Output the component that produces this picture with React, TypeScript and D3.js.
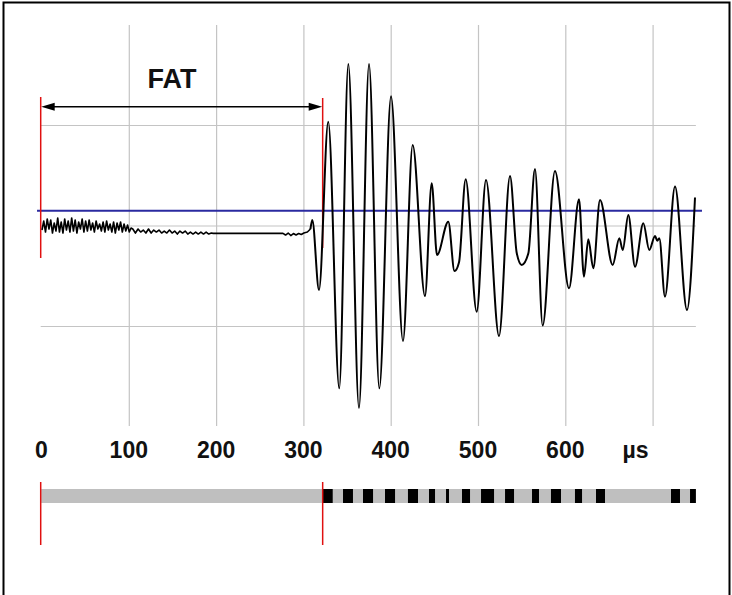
import React from "react";
import * as d3 from "d3";

// ---- data (time in µs, amplitude in grid units) ----
const tickLabels = [0, 100, 200, 300, 400, 500, 600];
const unitLabel = "µs";
const xGrid = [100, 200, 300, 400, 500, 600, 700];
const yGrid = [-1, 0, 1];
const FAT = 321.5;
const baselineLevel = 0.152;

const noiseEarly: [number, number][] = [
  [0, -0.04], [2, 0.05], [4, -0.06], [6, 0.07], [8, -0.03], [10, 0.06], [12, -0.07], [14, 0.03],
  [16, -0.05], [18, 0.08], [20, -0.06], [22, 0.04], [24, -0.07], [26, 0.07], [28, -0.04], [30, 0.05],
  [32, -0.06], [34, 0.08], [36, -0.05], [38, 0.06], [40, -0.07], [42, 0.04], [44, -0.03], [46, 0.07],
  [48, -0.06], [50, 0.05], [52, -0.05], [54, 0.06], [56, -0.04], [58, 0.03], [60, -0.06], [62, 0.05],
  [64, -0.03], [66, 0.02], [68, -0.05], [70, 0.04], [72, -0.06], [74, 0.05], [76, -0.04], [78, 0.02],
  [80, -0.06], [82, 0.04], [84, -0.07], [86, 0.03], [88, -0.04], [90, 0.04], [92, -0.06], [94, 0.02],
  [96, -0.05], [98, 0.01], [100, -0.06], [102, -0.02],
];

const noiseLate: [number, number][] = [
  [104, -0.03], [107, -0.07], [110, -0.03], [113, -0.06], [116, -0.04], [119, -0.07], [122, -0.03],
  [125, -0.07], [128, -0.04], [131, -0.06], [134, -0.04], [137, -0.07], [140, -0.05], [143, -0.07],
  [146, -0.04], [149, -0.07], [152, -0.05], [155, -0.08], [158, -0.05], [161, -0.07], [164, -0.05],
  [167, -0.08], [170, -0.06], [173, -0.08], [176, -0.06], [179, -0.08], [182, -0.06], [185, -0.08],
  [188, -0.06], [191, -0.08], [194, -0.07], [196, -0.073], [276, -0.073], [279, -0.09], [282, -0.07],
  [285, -0.095], [288, -0.075], [291, -0.09], [294, -0.075], [297, -0.085], [300, -0.07], [304, -0.06],
  [307.5, -0.03],
];

const burst: [number, number][] = [
  [309.6, 0.06], [317.3, -0.637], [327.9, 1.038], [340.5, -1.615], [350.9, 1.612], [363.1, -1.81],
  [374.6, 1.612], [386.4, -1.615], [399.8, 1.29], [413.5, -1.144], [424.6, 0.806], [438.7, -0.697],
  [446.4, 0.425], [452.5, -0.289], [465.4, 0.043], [472.5, -0.448], [477.7, -0.36], [485.3, 0.465],
  [497.9, -0.853], [508.6, 0.458], [523.5, -1.095], [536.1, 0.498], [543.8, -0.269], [549.5, -0.388],
  [557.1, -0.272], [564.7, 0.567], [573.5, -0.99], [587.6, 0.547], [603.7, -0.62], [615.1, 0.266],
  [620.8, -0.504], [625.8, -0.132], [631.5, -0.421], [639.2, 0.259], [653.7, -0.388], [661.3, -0.122],
  [665.2, -0.239], [671.6, 0.109], [679.3, -0.405], [688.8, 0.027], [695.6, -0.239], [702.2, -0.1],
  [704.8, -0.146], [707.1, -0.122], [713.6, -0.703], [725.1, 0.393], [738.8, -0.836], [748, 0.284],
];

// black pulse segments on the timeline bar [start, end] in µs
const pulses: [number, number][] = [
  [321.5, 333], [344.8, 356.2], [367.7, 379.2], [392.9, 404.4], [419.2, 430.7], [443.3, 450.2],
  [462.8, 466.2], [481.1, 490.3], [502.9, 517.8], [530.4, 540.7], [561.3, 569.3], [583, 594.5],
  [610.5, 618.6], [634.6, 644.9], [720.5, 730.8], [742.3, 749],
];

export default function App() {
  const W = 732, H = 595;
  const x = d3.scaleLinear().domain([0, 700]).range([42, 653.1]);
  const y = d3.scaleLinear().domain([-1, 1]).range([326.5, 125.5]);

  const noiseLine = d3.line<[number, number]>().x(d => x(d[0])).y(d => y(d[1]));
  const waveLine = d3
    .line<[number, number]>()
    .x(d => x(d[0]))
    .y(d => y(d[1]))
    .curve(d3.curveMonotoneX);

  const noisePath = noiseLine([...noiseEarly, ...noiseLate]) || "";
  const lastNoise = noiseLate[noiseLate.length - 1];
  const wavePath = waveLine([lastNoise, ...burst]) || "";

  const font = "'Liberation Sans', Arial, sans-serif";
  const arrowY = 106.7;
  const x0 = x(0) - 1.3;
  const xF = x(FAT);
  const barTop = 489, barH = 14;

  return (
    <svg
      width={W}
      height={H}
      style={{ position: "absolute", left: 0, top: 0, background: "#fff" }}
    >
      <rect x={0} y={0} width={W} height={H} fill="#fff" />
      {/* frame */}
      <path d={`M3.5,${H + 5} V2.5 H729.5 V${H + 5}`} fill="none" stroke="#000" strokeWidth={2} />

      {/* grid */}
      {xGrid.map(t => (
        <line key={"vx" + t} x1={x(t)} x2={x(t)} y1={25} y2={426} stroke="#c4c4c4" strokeWidth={1.2} />
      ))}
      {yGrid.map(v => (
        <line key={"hy" + v} x1={x(-1.5)} x2={x(749)} y1={y(v)} y2={y(v)} stroke="#c4c4c4" strokeWidth={1.2} />
      ))}

      {/* baseline */}
      <line x1={x(-5.7)} x2={x(756)} y1={y(baselineLevel)} y2={y(baselineLevel)} stroke="#2a2aa0" strokeWidth={2} />

      {/* red markers (top) */}
      <line x1={x0} x2={x0} y1={97} y2={258} stroke="#e01010" strokeWidth={1.5} />
      <line x1={xF} x2={xF} y1={98} y2={248} stroke="#e01010" strokeWidth={1.5} />

      {/* waveform */}
      <path d={noisePath} fill="none" stroke="#000" strokeWidth={1.6} strokeLinejoin="round" />
      <path d={wavePath} fill="none" stroke="#000" strokeWidth={2} strokeLinejoin="round" />

      {/* FAT arrow */}
      <line x1={x0 + 6} x2={xF - 6} y1={arrowY} y2={arrowY} stroke="#000" strokeWidth={1.6} />
      <path d={`M${x0 + 0.5},${arrowY} L${x0 + 14},${arrowY - 4} L${x0 + 14},${arrowY + 4} Z`} fill="#000" />
      <path d={`M${xF - 0.5},${arrowY} L${xF - 14},${arrowY - 4} L${xF - 14},${arrowY + 4} Z`} fill="#000" />
      <text x={172} y={88.3} textAnchor="middle" fontFamily={font} fontWeight="bold" fontSize={27} fill="#111">
        FAT
      </text>

      {/* tick labels */}
      {tickLabels.map(t => (
        <text key={"tl" + t} x={x(t) - 0.5} y={458.3} textAnchor="middle" fontFamily={font} fontWeight="bold" fontSize={23} fill="#111">
          {t}
        </text>
      ))}
      <text x={x(680)} y={458.3} textAnchor="middle" fontFamily={font} fontWeight="bold" fontSize={23} fill="#111">
        {unitLabel}
      </text>

      {/* timeline bar */}
      <rect x={x(-1)} y={barTop} width={x(749) - x(-1)} height={barH} fill="#bfbfbf" />
      {pulses.map(([a, b], i) => (
        <rect key={"p" + i} x={x(a)} y={barTop} width={x(b) - x(a)} height={barH} fill="#000" />
      ))}
      <line x1={x0} x2={x0} y1={482} y2={545} stroke="#e01010" strokeWidth={1.5} />
      <line x1={xF} x2={xF} y1={482} y2={545} stroke="#e01010" strokeWidth={1.5} />
    </svg>
  );
}
